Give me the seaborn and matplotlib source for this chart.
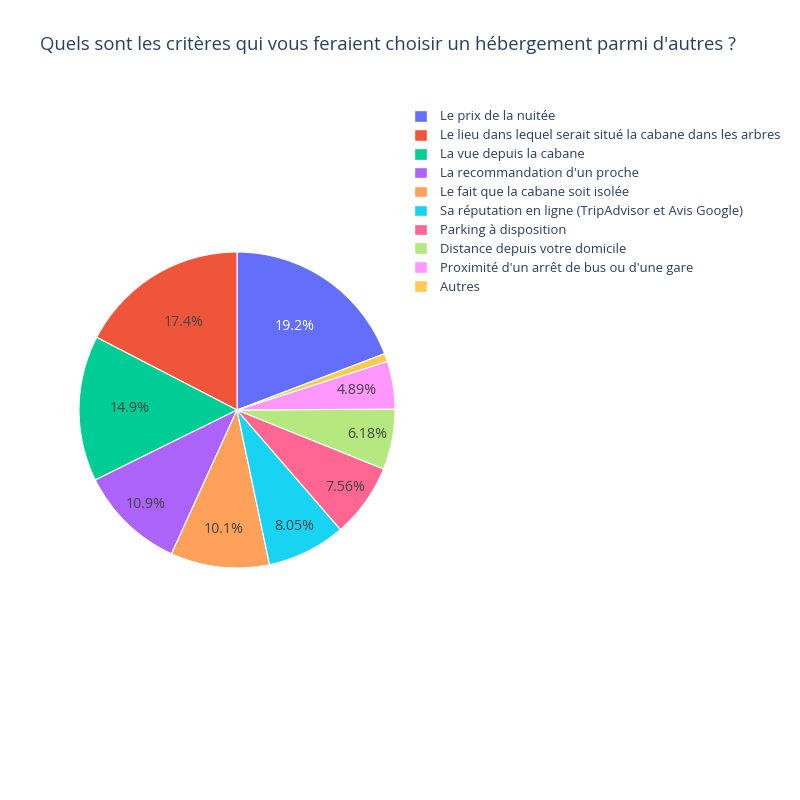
import matplotlib
matplotlib.use("Agg")
import matplotlib.pyplot as plt
import seaborn as sns
import numpy as np
from matplotlib.patches import Patch

sns.set_theme(style="white")
plt.rcParams['font.family'] = ['Open Sans', 'DejaVu Sans']

categories = [
    "Le prix de la nuitée",
    "Le lieu dans lequel serait situé la cabane dans les arbres",
    "La vue depuis la cabane",
    "La recommandation d'un proche",
    "Le fait que la cabane soit isolée",
    "Sa réputation en ligne (TripAdvisor et Avis Google)",
    "Parking à disposition",
    "Distance depuis votre domicile",
    "Proximité d'un arrêt de bus ou d'une gare",
    "Autres",
]
values = [19.2, 17.4, 14.9, 10.9, 10.1, 8.05, 7.56, 6.18, 4.89, 0.82]
labels_txt = ["19.2%", "17.4%", "14.9%", "10.9%", "10.1%", "8.05%", "7.56%", "6.18%", "4.89%", ""]
colors = ["#636EFA", "#EF553B", "#00CC96", "#AB63FA", "#FFA15A",
          "#19D3F3", "#FF6692", "#B6E880", "#FF97FF", "#FECB52"]
text_colors = ["white"] + ["#444444"] * 9
label_dist = [0.64, 0.65, 0.68, 0.83, 0.76, 0.82, 0.84, 0.84, 0.77, 0.8]

fig = plt.figure(figsize=(8, 8), dpi=100)
W = H = 800.0
cx, cy, r = 237 / W, 1 - 410 / H, 158 / W
ax = fig.add_axes([cx - r, cy - r, 2 * r, 2 * r])
start = 90 - values[0] / sum(values) * 360
wedges, _ = ax.pie(values, colors=colors, startangle=start, counterclock=True,
                   radius=1, wedgeprops=dict(linewidth=0.8, edgecolor="white"))
ax.set_aspect("equal")
ax.set_xlim(-1, 1)
ax.set_ylim(-1, 1)
ax.axis("off")

for w, t, tc, d in zip(wedges, labels_txt, text_colors, label_dist):
    if not t:
        continue
    ang = np.deg2rad((w.theta1 + w.theta2) / 2)
    ax.text(d * np.cos(ang), d * np.sin(ang), t, ha="center", va="center",
            fontsize=10.3, color=tc)

fig.text(40 / W, 1 - 45 / H, "Quels sont les critères qui vous feraient choisir un hébergement parmi d'autres ?",
         fontsize=13.3, color="#2a3f5f", ha="left", va="center")

handles = [Patch(facecolor=c, edgecolor="white") for c in colors]
leg = fig.legend(handles, categories, loc="upper left", bbox_to_anchor=(414 / W, 1 - 110 / H),
                 frameon=False, fontsize=9.4, labelcolor="#2a3f5f", handlelength=1.0,
                 handleheight=1.0, handletextpad=1.0, labelspacing=0.43,
                 borderaxespad=0, borderpad=0)

fig.savefig("out.png", dpi=100, facecolor="white")
